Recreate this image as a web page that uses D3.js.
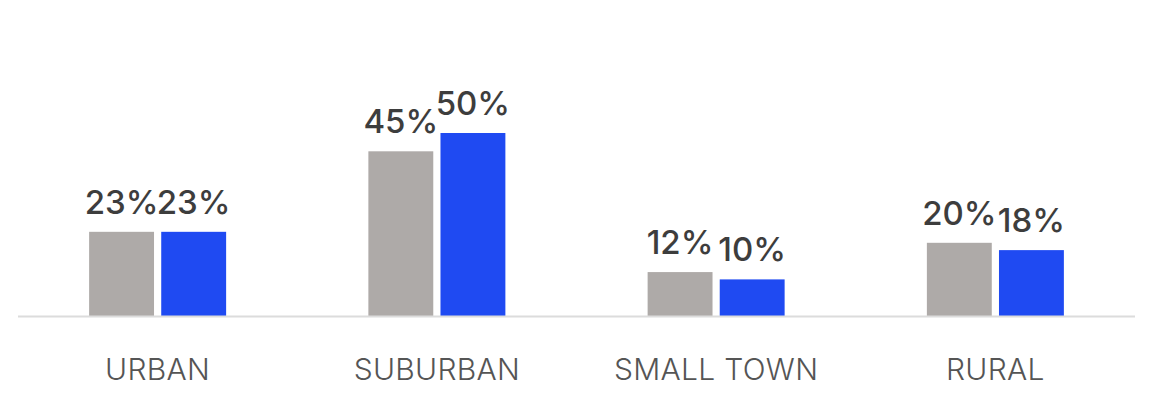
<!DOCTYPE html>
<html>
<head>
<meta charset="utf-8">
<script src="https://cdn.jsdelivr.net/npm/d3@7"></script>
<style>
  body { margin: 0; background: #fff; }
  svg { display: block; }
</style>
</head>
<body>
<div id="chart"></div>
<script>
var categories = ["URBAN", "SUBURBAN", "SMALL TOWN", "RURAL"];
var series = ["before", "after"];
var beforeValues = [23, 45, 12, 20];
var afterValues = [23, 50, 10, 18];
var colors = ["#aeaaa8", "#1f4af2"];

var width = 1153, height = 404;

var svg = d3.select("#chart").append("svg")
    .attr("width", width)
    .attr("height", height);

var x = d3.scaleBand()
    .domain(categories)
    .range([18, 1135])
    .padding(0);

var xInner = d3.scaleBand()
    .domain(series)
    .range([0, 137])
    .paddingInner(0.1);

var y = d3.scaleLinear()
    .domain([0, 50])
    .range([316, 133]);

var rows = categories.map(function(c, i) {
    return { cat: c, values: [beforeValues[i], afterValues[i]] };
});

var groups = svg.selectAll("g.group")
    .data(rows)
    .enter()
    .append("g")
    .attr("class", "group")
    .attr("transform", function(d) {
        return "translate(" + (x(d.cat) + x.bandwidth() / 2 - 68.5) + ",0)";
    });

groups.selectAll("rect")
    .data(function(d) { return d.values.map(function(v, j) { return { s: series[j], v: v, j: j }; }); })
    .enter()
    .append("rect")
    .attr("x", function(d) { return xInner(d.s); })
    .attr("width", xInner.bandwidth())
    .attr("y", function(d) { return y(d.v); })
    .attr("height", function(d) { return y(0) - y(d.v); })
    .attr("fill", function(d) { return colors[d.j]; });

groups.selectAll("text.val")
    .data(function(d) { return d.values.map(function(v, j) { return { s: series[j], v: v }; }); })
    .enter()
    .append("text")
    .attr("class", "val")
    .attr("x", function(d) { return xInner(d.s) + xInner.bandwidth() / 2; })
    .attr("y", function(d) { return y(d.v) - 18; })
    .attr("text-anchor", "middle")
    .attr("font-family", "Inter, sans-serif")
    .attr("font-size", 33)
    .attr("font-weight", 500)
    .attr("fill", "#3d3d3d")
    .text(function(d) { return d.v + "%"; });

// baseline
svg.append("line")
    .attr("x1", 18).attr("x2", 1135)
    .attr("y1", y(0) + 0.5).attr("y2", y(0) + 0.5)
    .attr("stroke", "#dcdcdc")
    .attr("stroke-width", 2);

svg.selectAll("text.cat")
    .data(categories)
    .enter()
    .append("text")
    .attr("class", "cat")
    .attr("x", function(d) { return x(d) + x.bandwidth() / 2; })
    .attr("y", 380)
    .attr("text-anchor", "middle")
    .attr("font-family", "Inter, sans-serif")
    .attr("font-size", 30)
    .attr("font-weight", 300)
    .attr("letter-spacing", 0.3)
    .attr("fill", "#555555")
    .text(function(d) { return d; });
</script>
</body>
</html>
